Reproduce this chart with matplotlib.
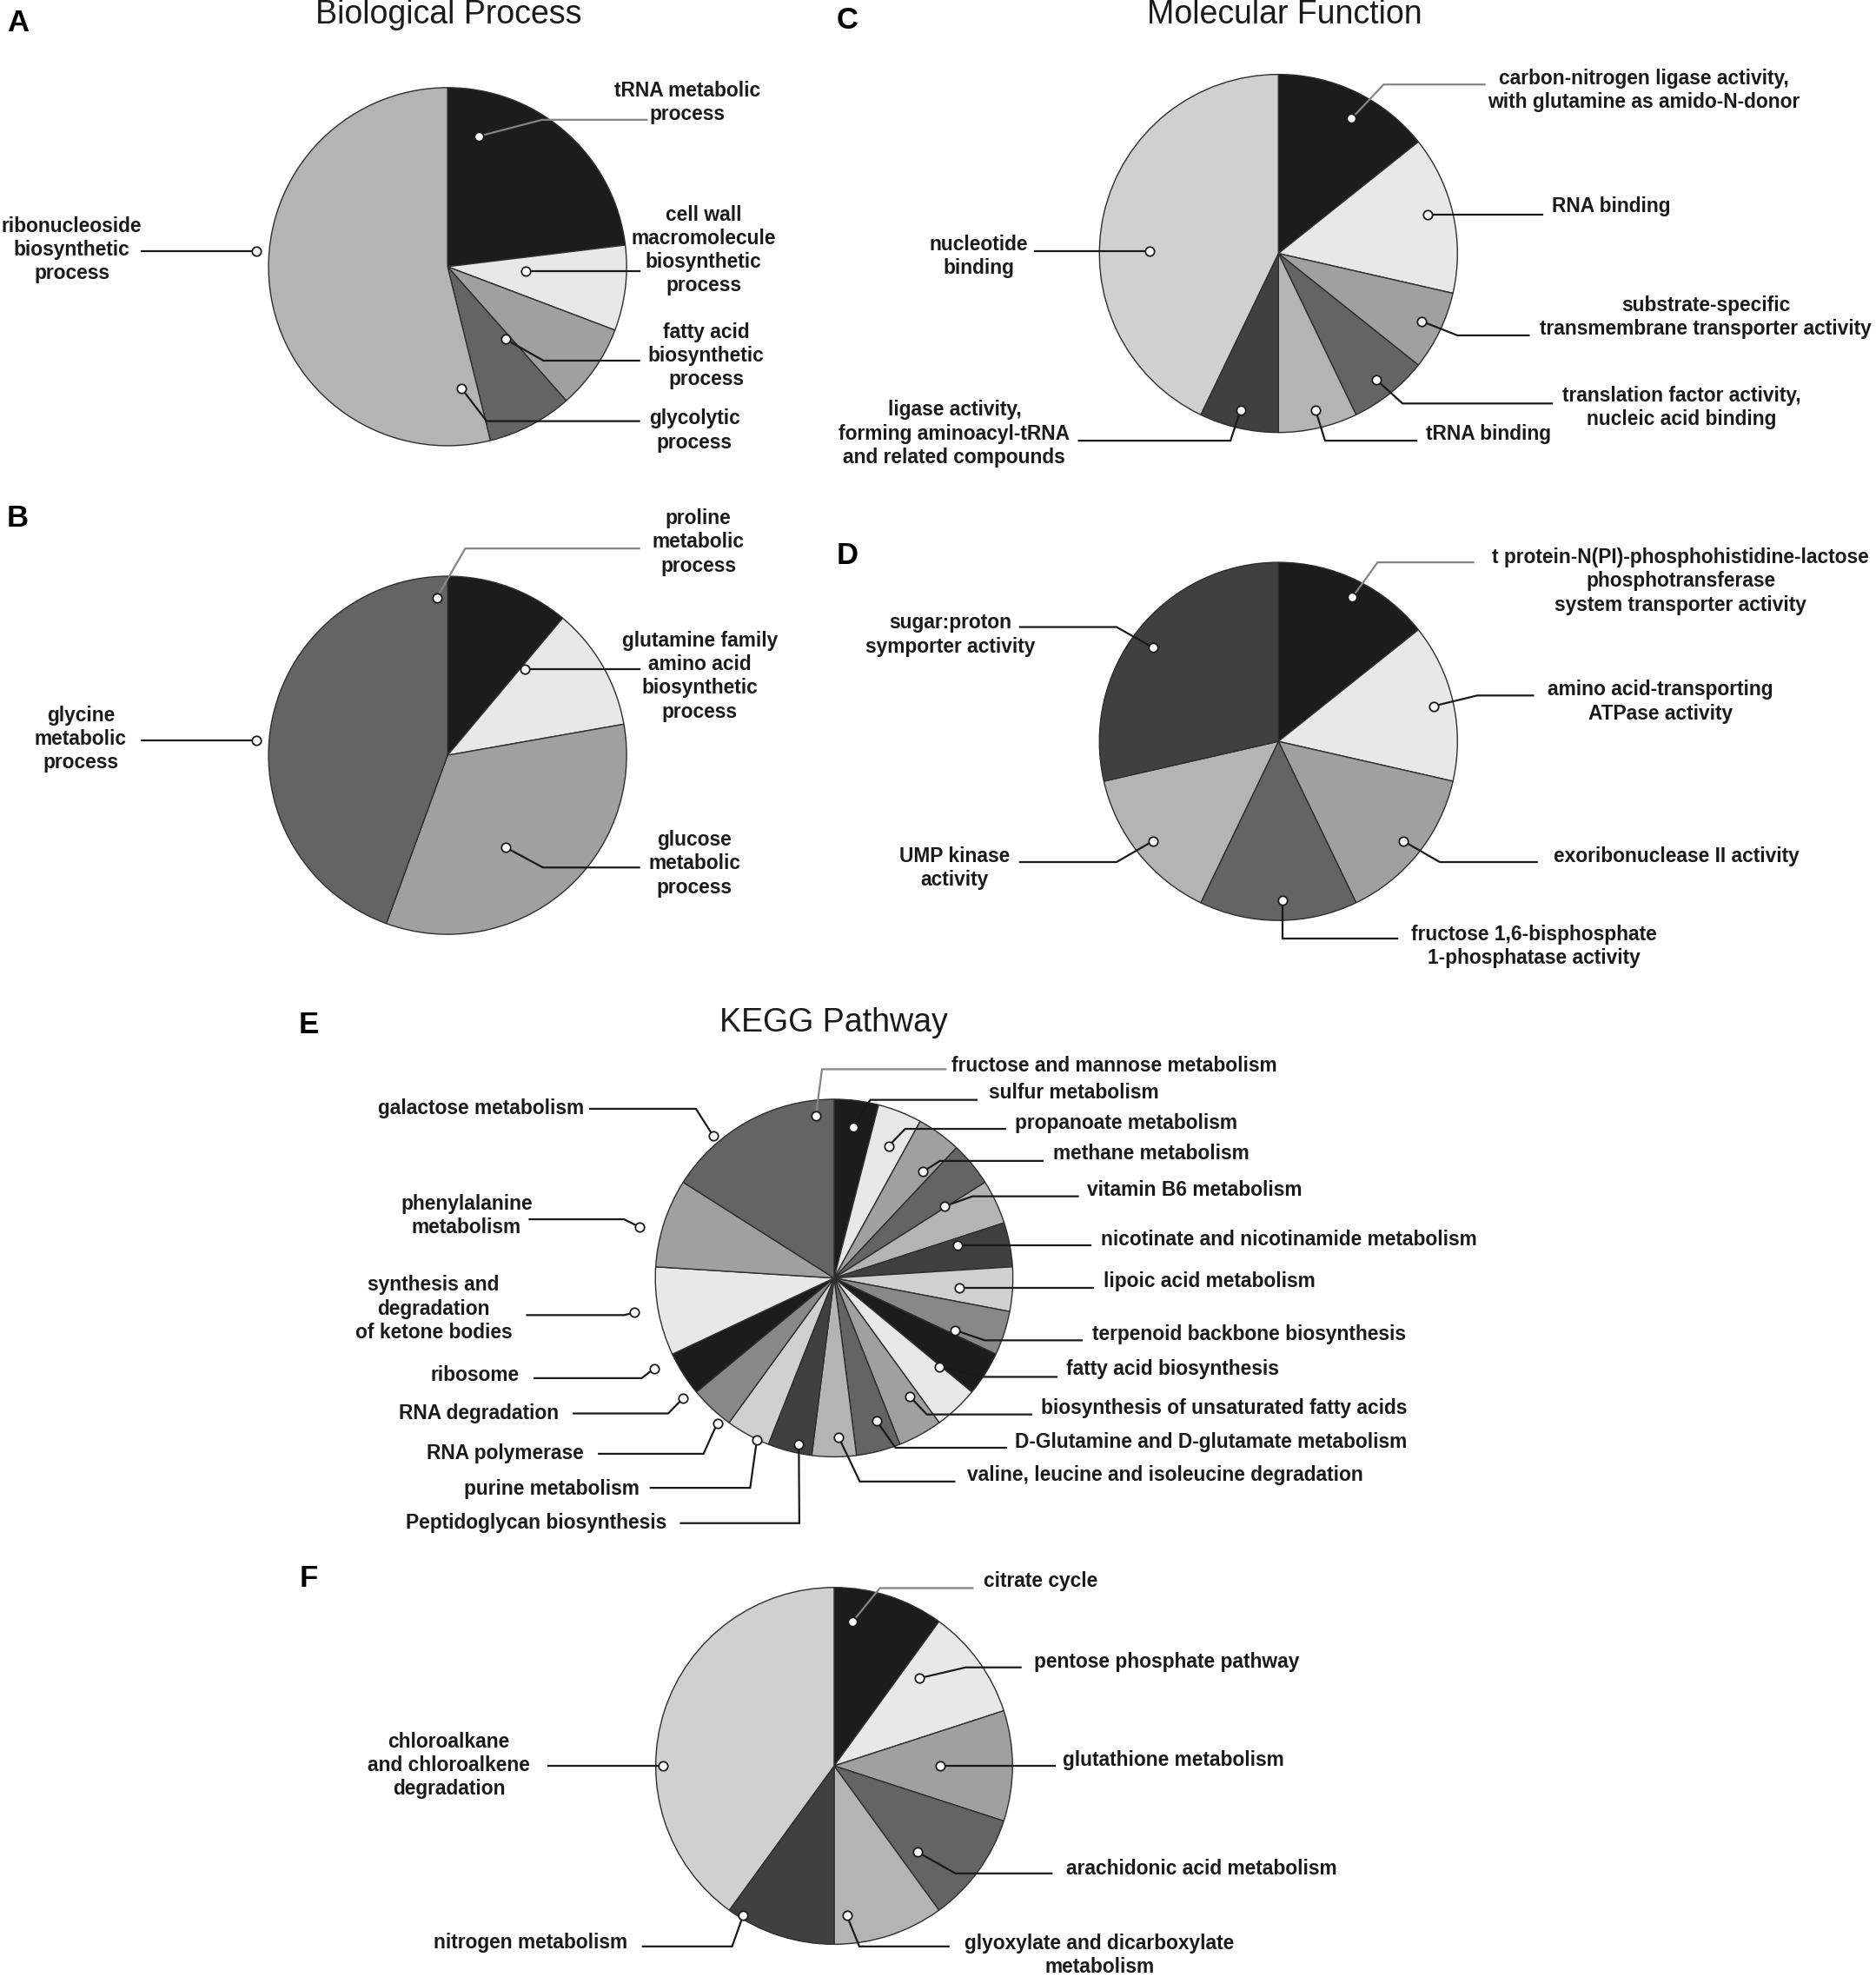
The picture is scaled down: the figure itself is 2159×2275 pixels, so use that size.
import matplotlib
matplotlib.use("Agg")
import matplotlib.pyplot as plt

plt.rcParams['font.family'] = ['Liberation Sans', 'DejaVu Sans']

# grey palette used by every pie, in slice order
palette = ['#1c1c1c', '#e8e8e8', '#a0a0a0', '#646464', '#b4b4b4', '#404040', '#d0d0d0', '#888888']

# A - Biological Process
bp_labels = ['tRNA metabolic\nprocess', 'cell wall\nmacromolecule\nbiosynthetic\nprocess',
             'fatty acid\nbiosynthetic\nprocess', 'glycolytic\nprocess',
             'ribonucleoside\nbiosynthetic\nprocess']
bp_values = [6, 2, 2, 2, 14]

# B
bp2_labels = ['proline\nmetabolic\nprocess', 'glutamine family\namino acid\nbiosynthetic\nprocess',
              'glucose\nmetabolic\nprocess', 'glycine\nmetabolic\nprocess']
bp2_values = [1, 1, 3, 4]

# C - Molecular Function
mf_labels = ['carbon-nitrogen ligase activity,\nwith glutamine as amido-N-donor', 'RNA binding',
             'substrate-specific\ntransmembrane transporter activity',
             'translation factor activity,\nnucleic acid binding', 'tRNA binding',
             'ligase activity,\nforming aminoacyl-tRNA\nand related compounds',
             'nucleotide\nbinding']
mf_values = [2, 2, 1, 1, 1, 1, 6]

# D
mf2_labels = ['t protein-N(PI)-phosphohistidine-lactose\nphosphotransferase\nsystem transporter activity',
              'amino acid-transporting\nATPase activity', 'exoribonuclease II activity',
              'fructose 1,6-bisphosphate\n1-phosphatase activity', 'UMP kinase\nactivity',
              'sugar:proton\nsymporter activity']
mf2_values = [1, 1, 1, 1, 1, 2]

# E - KEGG Pathway
kegg_labels = ['fructose and mannose metabolism', 'sulfur metabolism', 'propanoate metabolism',
               'methane metabolism', 'vitamin B6 metabolism',
               'nicotinate and nicotinamide metabolism', 'lipoic acid metabolism',
               'terpenoid backbone biosynthesis', 'fatty acid biosynthesis',
               'biosynthesis of unsaturated fatty acids', 'D-Glutamine and D-glutamate metabolism',
               'valine, leucine and isoleucine degradation', 'Peptidoglycan biosynthesis',
               'purine metabolism', 'RNA polymerase', 'RNA degradation', 'ribosome',
               'synthesis and\ndegradation\nof ketone bodies', 'phenylalanine\nmetabolism',
               'galactose metabolism']
kegg_values = [1, 1, 1, 1, 1, 1, 1, 1, 1, 1, 1, 1, 1, 1, 1, 1, 1, 2, 2, 4]

# F
kegg2_labels = ['citrate cycle', 'pentose phosphate pathway', 'glutathione metabolism',
                'arachidonic acid metabolism', 'glyoxylate and dicarboxylate\nmetabolism',
                'nitrogen metabolism', 'chloroalkane\nand chloroalkene\ndegradation']
kegg2_values = [1, 1, 1, 1, 1, 1, 4]

# ---- layout (reference preview units, scaled to output pixels below) ----
W, H = 2159, 2275
S = W / 1488.0

def P(x, y):
    return x * S, H - y * S

# pie centre and radius
pies = [
    (bp_labels, bp_values, (355, 211.5), 142),
    (bp2_labels, bp2_values, (355, 599), 142),
    (mf_labels, mf_values, (1014, 201), 142),
    (mf2_labels, mf2_values, (1014, 588), 142),
    (kegg_labels, kegg_values, (661.6, 1013.6), 141.8),
    (kegg2_labels, kegg2_values, (661.6, 1400.5), 141.5),
]

# leader lines: dot, elbow (None = straight), end x, text position, alignment
leaders = [
    [((380, 108), (430, 95), 513, (545, 81.5), 'center'),
     ((417, 215), None, 507, (558, 198.5), 'center'),
     ((401, 269), (431, 286), 507, (560, 282), 'center'),
     ((366, 308), (386, 334), 507, (551, 341.5), 'center'),
     ((203, 199), None, 112, (57, 198), 'center')],
    [((346.5, 474), (369, 435), 507, (554, 430), 'center'),
     ((416.5, 531), None, 507, (555, 536.5), 'center'),
     ((401, 672), (430.6, 688), 507, (551, 685), 'center'),
     ((203, 587), None, 112, (64, 586), 'center')],
    [((1072, 94), (1097.5, 67), 1177.6, (1304, 71.5), 'center'),
     ((1132.5, 170), None, 1223.6, (1231, 164), 'left'),
     ((1127.5, 254.7), (1156, 266), 1212.6, (1353, 251.5), 'center'),
     ((1092, 301.5), (1112.5, 320), 1231, (1334, 323.5), 'center'),
     ((1043.4, 325), (1051, 349.5), 1123.5, (1131, 344), 'left'),
     ((984, 325), (976, 349.5), 855.7, (757, 344), 'center'),
     ((912, 199), None, 820.6, (776, 203.5), 'center')],
    [((1072.7, 473.6), (1092.7, 446), 1168.6, (1333, 461), 'center'),
     ((1137, 560), (1171.7, 551.6), 1216, (1317, 556.5), 'center'),
     ((1113, 667), (1142, 683.7), 1219, (1232, 679), 'left'),
     ((1017.3, 714), (1017.3, 744), 1108.5, (1217, 750.5), 'center'),
     ((914.6, 667), (885.6, 683.7), 809, (757, 688.5), 'center'),
     ((914.6, 513.6), (885.6, 497.3), 809, (754, 503.5), 'center')],
    [((647.1, 885.1), (652, 848), 750, (755, 845), 'left'),
     ((676.5, 893.7), (690.3, 872.3), 774.6, (784, 867), 'left'),
     ((704.8, 909), (717.9, 895.3), 797.2, (805, 891), 'left'),
     ((732.1, 929.2), (745.5, 920.7), 827, (835, 915), 'left'),
     ((748.9, 956.8), (771.4, 948.8), 855, (862, 944), 'left'),
     ((759.7, 987.8), None, 865, (873, 983), 'left'),
     ((761, 1021.1), None, 867, (875, 1016), 'left'),
     ((757.4, 1054.9), (781, 1063), 858, (866, 1058), 'left'),
     ((744.8, 1083.9), (780, 1092), 838, (846, 1086), 'left'),
     ((721.8, 1107.7), (735.1, 1121.8), 818, (826, 1117), 'left'),
     ((695.2, 1126.8), (710.3, 1148.2), 798, (805, 1144), 'left'),
     ((665.3, 1140), (682, 1175), 757, (767, 1170), 'left'),
     ((633.6, 1145.2), (634, 1208), 540, (529, 1208), 'right'),
     ((600.3, 1142.2), (595, 1180), 516, (507, 1181), 'right'),
     ((569, 1128.6), (558, 1153), 475, (463, 1153), 'right'),
     ((541.7, 1109), (530, 1121), 455, (443, 1121), 'right'),
     ((518.7, 1085.5), (509, 1093), 424, (412, 1091), 'right'),
     ((503, 1041), (495, 1043), 418, (344, 1038), 'center'),
     ((507, 973), (495, 967), 420, (370, 964), 'center'),
     ((565.8, 901), (552, 879.4), 468, (463, 879), 'right')],
    [((676.1, 1286.3), (697.9, 1259.5), 771.5, (780, 1254), 'left'),
     ((729.5, 1330.9), (766, 1322.4), 809.6, (820, 1318), 'left'),
     ((745.9, 1400.7), None, 836.9, (843, 1396), 'left'),
     ((727.9, 1468.9), (757.9, 1485.8), 834.1, (846, 1482), 'left'),
     ((671.7, 1519.2), (681.6, 1543.7), 752.4, (872, 1550.5), 'center'),
     ((589.4, 1519.2), (580.7, 1543.7), 509.9, (498, 1541), 'right'),
     ((526.2, 1400.7), None, 435.2, (356, 1400), 'center')],
]

# lines that start inside a black slice are drawn grey
grey_lines = [(0, 0), (1, 0), (2, 0), (3, 0), (4, 0), (5, 0)]

titles = [('Biological Process', (356, 12)), ('Molecular Function', (1019, 12)),
          ('KEGG Pathway', (661, 811))]
letters = [('A', (14, 18)), ('B', (14, 411)), ('C', (672, 16)), ('D', (672, 441)),
           ('E', (245, 813)), ('F', (245, 1252))]

fig = plt.figure(figsize=(W / 100, H / 100), dpi=100)
ax = fig.add_axes([0, 0, 1, 1])

for k, (labels, values, c, r) in enumerate(pies):
    cols = [palette[i % len(palette)] for i in range(len(values))]
    ax.pie(values, colors=cols, startangle=90, counterclock=False,
           center=P(*c), radius=r * S, frame=True,
           wedgeprops=dict(edgecolor='#2e2e2e', linewidth=1.0))
    for j, (dot, elbow, end_x, txt, ha) in enumerate(leaders[k]):
        if elbow is None:
            elbow = dot
        dx, dy = P(*dot)
        ex, ey = P(*elbow)
        lx, _ = P(end_x, 0)
        lc = '#858585' if (k, j) in grey_lines else '#1a1a1a'
        ax.plot([dx, ex, lx], [dy, ey, ey], color=lc, lw=1.6, zorder=4,
                solid_joinstyle='miter')
        ax.plot(dx, dy, 'o', ms=7.5, mfc='white', mec='#1a1a1a', mew=1.3, zorder=5)
        tx, ty = P(*txt)
        ax.text(tx, ty, labels[j], ha=ha, va='center', multialignment='center',
                fontsize=16.4, fontweight='bold', color='#1a1a1a', linespacing=1.23)

for t, xy in titles:
    x, y = P(*xy)
    ax.text(x, y, t, ha='center', va='center', fontsize=27, color='#1a1a1a')

for t, xy in letters:
    x, y = P(*xy)
    ax.text(x, y, t, ha='center', va='center', fontsize=25, fontweight='bold', color='black')

ax.set_xlim(0, W)
ax.set_ylim(0, H)
ax.set_aspect('equal')
ax.set_axis_off()

fig.savefig('out.png', dpi=100, facecolor='white')
